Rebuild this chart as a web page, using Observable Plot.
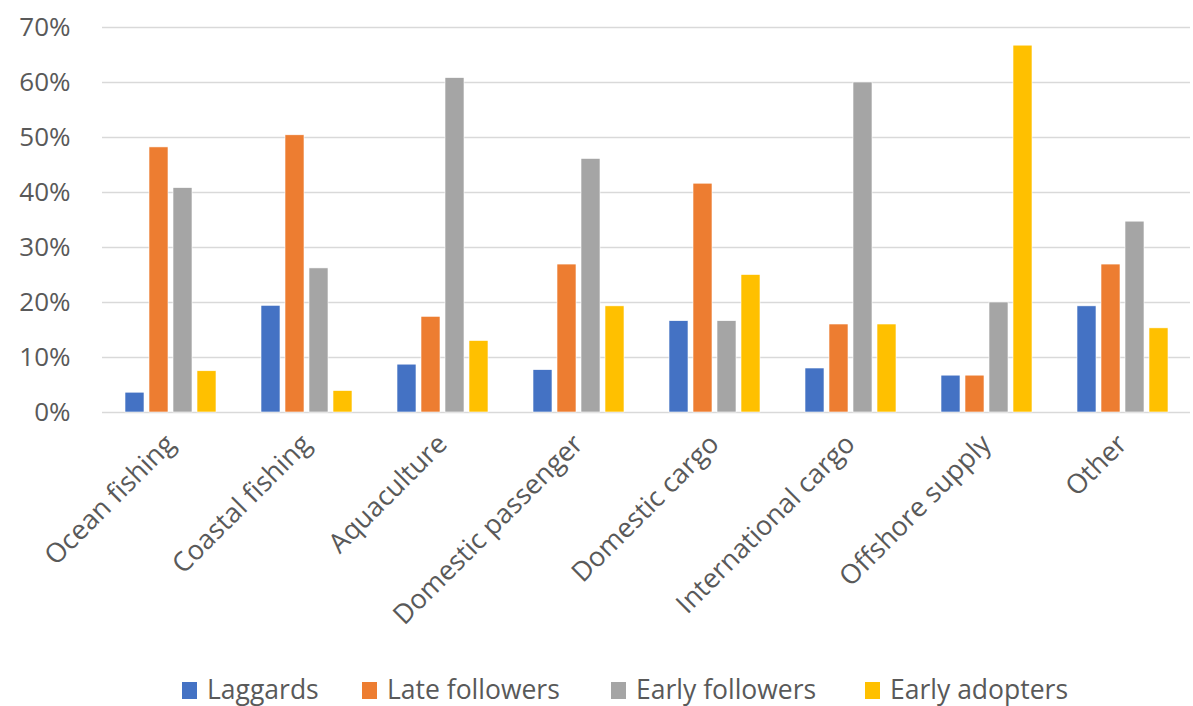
<!DOCTYPE html>
<html>
<head>
<meta charset="utf-8">
<script src="https://cdn.jsdelivr.net/npm/d3@7"></script>
<script src="https://cdn.jsdelivr.net/npm/@observablehq/plot@0.6"></script>
<style>
  html, body { margin: 0; padding: 0; background: #fff; }
  #chart { width: 1193px; }
  #legend { position: relative; height: 56px; font-family: "Open Sans", sans-serif; font-size: 26.5px; color: #595959; }
  .item { position: absolute; top: 21px; display: flex; align-items: center; white-space: nowrap; }
  .sw { width: 15px; height: 17px; margin-right: 10px; margin-top: 3px; }
  g[aria-label="fx-axis tick label"] { font-size: 27px; }
</style>
</head>
<body>
<div id="chart"></div>
<div id="legend"></div>
<script>
const categories = ["Ocean fishing", "Coastal fishing", "Aquaculture", "Domestic passenger", "Domestic cargo", "International cargo", "Offshore supply", "Other"];
const series = ["Laggards", "Late followers", "Early followers", "Early adopters"];
const colors = ["#4472C4", "#ED7D31", "#A5A5A5", "#FFC000"];
const laggards       = [0.036, 0.194, 0.087, 0.077, 0.166, 0.080, 0.067, 0.193];
const lateFollowers  = [0.482, 0.504, 0.174, 0.269, 0.416, 0.160, 0.067, 0.269];
const earlyFollowers = [0.408, 0.262, 0.608, 0.461, 0.166, 0.600, 0.200, 0.347];
const earlyAdopters  = [0.075, 0.039, 0.130, 0.193, 0.250, 0.160, 0.667, 0.153];
const yTicks = [0, 0.1, 0.2, 0.3, 0.4, 0.5, 0.6, 0.7];

const valuesBySeries = [laggards, lateFollowers, earlyFollowers, earlyAdopters];
const data = [];
categories.forEach((c, i) => series.forEach((s, j) => data.push({category: c, series: s, value: valuesBySeries[j][i]})));

const chart = Plot.plot({
  width: 1193,
  height: 650,
  marginLeft: 98,
  marginRight: 0,
  marginTop: 27,
  marginBottom: 238,
  style: {fontFamily: "'Open Sans', sans-serif", fontSize: "26px", color: "#595959", background: "#fff"},
  fx: {domain: categories, padding: 0, label: null, tickSize: 0, tickRotate: -45, tickPadding: 27},
  x: {domain: series, axis: null, paddingInner: 0.22, paddingOuter: 0.85},
  y: {domain: [0, 0.7], ticks: yTicks, tickFormat: d3.format(".0%"), tickSize: 0, tickPadding: 32, label: null},
  color: {domain: series, range: colors},
  facet: {data, x: "category"},
  marks: [
    Plot.ruleY(yTicks, {stroke: "#d9d9d9", strokeWidth: 1.5}),
    Plot.barY(data, {x: "series", y: "value", fill: "series", stroke: "#fff", strokeWidth: 0.6})
  ]
});
document.getElementById("chart").appendChild(chart);

const lefts = [182, 362, 611, 865];
const legend = document.getElementById("legend");
series.forEach((s, i) => {
  const d = document.createElement("div");
  d.className = "item";
  d.style.left = lefts[i] + "px";
  d.innerHTML = `<span class="sw" style="background:${colors[i]}"></span><span>${s}</span>`;
  legend.appendChild(d);
});
</script>
</body>
</html>
